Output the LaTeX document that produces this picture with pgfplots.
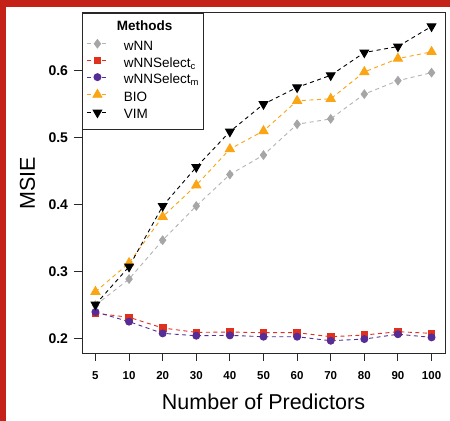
\documentclass[border=0pt]{standalone}
\usepackage{fontspec}
\setmainfont{Liberation Sans}
\usepackage{pgfplots}
\pgfplotsset{compat=1.18}

\definecolor{framered}{RGB}{196,34,24}
\definecolor{wnngray}{RGB}{166,166,166}
\definecolor{selred}{RGB}{224,48,30}
\definecolor{selpurple}{RGB}{86,44,150}
\definecolor{bioorange}{RGB}{250,165,20}
\definecolor{axisgray}{RGB}{40,40,40}

\begin{document}
\begin{tikzpicture}
\path[use as bounding box] (0,0) rectangle (450bp,421bp);
\fill[framered] (0,0) rectangle (450bp,421bp);
\fill[white] (6bp,0) rectangle (450bp,414bp);

\begin{axis}[
    at={(82bp,68bp)}, anchor=south west,
    scale only axis,
    width=363bp, height=340bp,
    xmin=-0.4, xmax=10.4,
    ymin=0.1787, ymax=0.686,
    xtick={0,1,2,3,4,5,6,7,8,9,10},
    xticklabels={5,10,20,30,40,50,60,70,80,90,100},
    ytick={0.2,0.3,0.4,0.5,0.6},
    yticklabels={0.2,0.3,0.4,0.5,0.6},
    /pgf/number format/assume math mode=true,
    tick pos=left,
    tick align=outside,
    major tick length=8bp,
    axis line style={axisgray, line width=1bp},
    every tick/.style={axisgray, line width=1bp},
    yticklabel style={font=\fontsize{14bp}{16bp}\selectfont\bfseries, xshift=-2.5bp},
    xticklabel style={font=\fontsize{11.5bp}{13bp}\selectfont\bfseries, yshift=-7bp},
    xlabel={Number of Predictors},
    ylabel={MSIE},
    xlabel style={at={(axis description cs:0.5,-0.1656)}, anchor=base,
        font=\fontsize{21.5bp}{24bp}\selectfont},
    ylabel style={at={(axis description cs:-0.1295,0.5)}, anchor=base,
        font=\fontsize{21.5bp}{24bp}\selectfont},
    legend style={
        at={(axis description cs:0,1)}, anchor=north west,
        draw=axisgray, line width=1bp, fill=white,
        inner xsep=4bp, inner ysep=3bp,
        font=\fontsize{13.5bp}{16bp}\selectfont,
        row sep=0bp, column sep=0bp,
        nodes={inner sep=0bp, text height=11bp, text depth=5.7bp}
    },
    legend cell align=left,
    legend image code/.code={
        \draw[#1, mark repeat=2, mark phase=2]
            plot coordinates {(0bp,4bp) (10.5bp,4bp) (21bp,4bp)};
        \path (36.5bp,4bp);
    },
]

\addlegendimage{empty legend}
\addlegendentry[text height=13.7bp, text depth=9.2bp]{\hspace*{-7bp}\textbf{Methods}}

% wNN
\addplot[wnngray!85, line width=0.9bp, dash pattern=on 4bp off 3.5bp,
    mark=diamond*, mark size=4.2bp,
    mark options={solid, fill=wnngray, draw=wnngray}] coordinates {
    (0,0.250) (1,0.289) (2,0.347) (3,0.398) (4,0.445) (5,0.474)
    (6,0.520) (7,0.528) (8,0.565) (9,0.585) (10,0.597)
};
\addlegendentry{wNN}

% wNNSelect_c
\addplot[selred, line width=0.9bp, dash pattern=on 4bp off 3.5bp,
    mark=square*, mark size=3.3bp,
    mark options={solid, fill=selred, draw=selred}] coordinates {
    (0,0.238) (1,0.232) (2,0.216) (3,0.2095) (4,0.210) (5,0.209)
    (6,0.209) (7,0.203) (8,0.2055) (9,0.2105) (10,0.208)
};
\addlegendentry{wNNSelect\textsubscript{c}}

% wNNSelect_m
\addplot[selpurple, line width=0.9bp, dash pattern=on 4bp off 3.5bp,
    mark=*, mark size=3.5bp,
    mark options={solid, fill=selpurple, draw=selpurple}] coordinates {
    (0,0.240) (1,0.2255) (2,0.208) (3,0.2045) (4,0.205) (5,0.203)
    (6,0.203) (7,0.197) (8,0.1995) (9,0.2067) (10,0.202)
};
\addlegendentry{wNNSelect\textsubscript{m}}

% BIO
\addplot[bioorange, line width=0.9bp, dash pattern=on 4bp off 3.5bp,
    mark=triangle*, mark size=5.2bp,
    mark options={solid, fill=bioorange, draw=bioorange}] coordinates {
    (0,0.270) (1,0.313) (2,0.382) (3,0.429) (4,0.483) (5,0.510)
    (6,0.555) (7,0.558) (8,0.598) (9,0.618) (10,0.628)
};
\addlegendentry{BIO}

% VIM
\addplot[black, line width=0.9bp, dash pattern=on 4bp off 3.5bp,
    mark=triangle*, mark size=5bp,
    mark options={solid, fill=black, draw=black, rotate=180}] coordinates {
    (0,0.251) (1,0.3075) (2,0.398) (3,0.456) (4,0.509) (5,0.550)
    (6,0.575) (7,0.593) (8,0.627) (9,0.636) (10,0.666)
};
\addlegendentry[text depth=8bp]{VIM}

\end{axis}
\end{tikzpicture}
\end{document}
